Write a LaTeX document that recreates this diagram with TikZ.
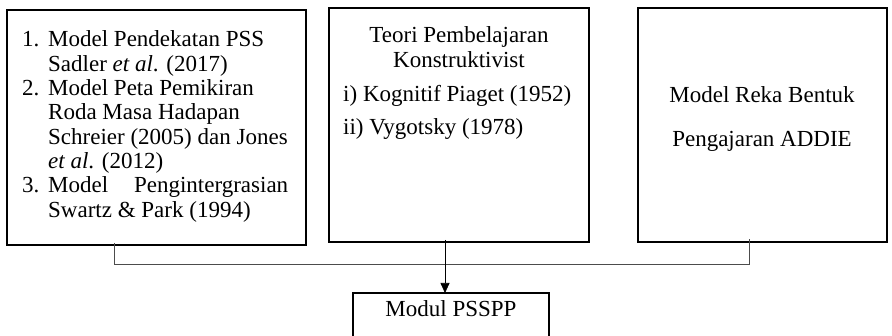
\documentclass[tikz,border=0pt]{standalone}
\usepackage{fontspec}
\setmainfont{Liberation Serif}
\usetikzlibrary{arrows.meta}
\begin{document}
\begin{tikzpicture}[x=1pt,y=-1pt,
  frame/.style={draw=black,line width=1.4pt,inner sep=0pt,outer sep=0pt,anchor=north west},
  txt/.style={inner sep=0pt,font=\fontsize{23}{24.3}\selectfont},
  link/.style={draw=black!70,line width=0.7pt},
  arrow/.style={draw=black,line width=0.7pt,-{Triangle[length=10pt,width=9pt]}}]
\clip (0,0) rectangle (892,336);
\fill[white] (0,0) rectangle (892,336);

% the three source boxes
\node[frame,minimum width=299pt,minimum height=235pt] (b1) at (7,10) {};
\node[frame,minimum width=260pt,minimum height=234pt] (b2) at (329,8) {};
\node[frame,minimum width=249pt,minimum height=234pt] (b3) at (638,8) {};
% the result box
\node[frame,minimum width=196pt,minimum height=60pt] (m) at (353,293) {};

% box texts
\node[txt,anchor=base west] (t1) at (22,47) {%
  \begin{tabular}[t]{@{}p{26pt}@{}l@{}}
  1. & Model Pendekatan PSS\\
     & Sadler \textit{et al}. (2017)\\
  2. & Model Peta Pemikiran\\
     & Roda Masa Hadapan\\
     & Schreier (2005) dan Jones\\
     & \textit{et al}. (2012)\\
  3. & \makebox[240pt][s]{Model\hfill Pengintergrasian}\\
     & Swartz \& Park (1994)
  \end{tabular}};

\node[txt,anchor=base] (t2a) at (459,43) {%
  \begin{tabular}[t]{@{}c@{}}Teori Pembelajaran\\Konstruktivist\end{tabular}};
\node[txt,anchor=base west] (t2b) at (343,102) {%
  \begin{tabular}[t]{@{}l@{}}i) Kognitif Piaget (1952)\\[8.7pt]ii) Vygotsky (1978)\end{tabular}};

\node[txt,anchor=base] (t3) at (762,103) {%
  \begin{tabular}[t]{@{}c@{}}Model Reka Bentuk\\[19.7pt]Pengajaran ADDIE\end{tabular}};

\node[txt,anchor=base] (tm) at (451,317) {Modul PSSPP};

% bracket joining the three boxes
\coordinate (lt) at (114,264);
\coordinate (rt) at (749,264);
\coordinate (ax) at (445,264);
\draw[link] ([yshift=2pt]lt |- b1.south) -- (lt) -- (rt) -- ([yshift=3pt]rt |- b3.south);
\draw[arrow] ([yshift=2pt]ax |- b2.south) -- (ax |- m.north);
\end{tikzpicture}
\end{document}
